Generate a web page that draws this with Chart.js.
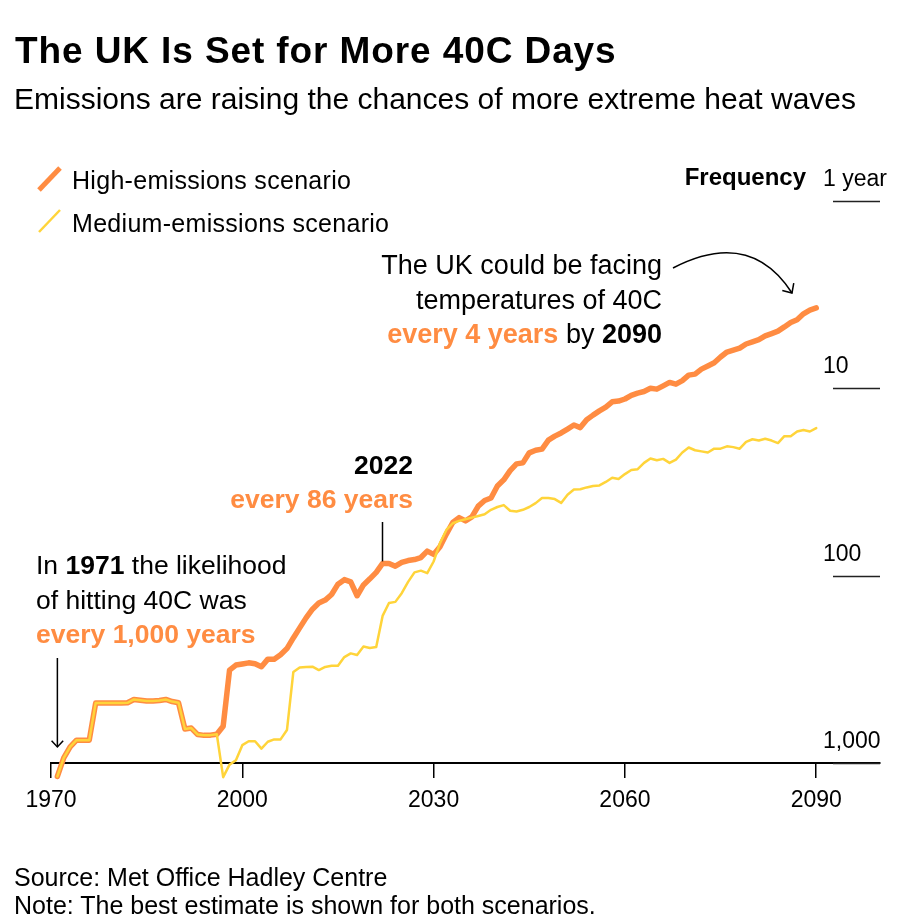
<!DOCTYPE html>
<html>
<head>
<meta charset="utf-8">
<title>The UK Is Set for More 40C Days</title>
<script src="https://cdn.jsdelivr.net/npm/chart.js@4.4.1/dist/chart.umd.min.js"></script>
<style>
  body { margin: 0; background: #fff; }
  #wrap {
    position: relative;
    width: 915px;
    height: 914px;
    overflow: hidden;
    font-family: "Liberation Sans", Arial, sans-serif;
    color: #000;
  }
  #chart { position: absolute; left: 0; top: 0; }
  .txt { position: absolute; white-space: nowrap; line-height: 1; }
  .hot { color: #ff8c42; font-weight: bold; }
  .legend-icon { position: absolute; left: 36px; }
</style>
</head>
<body>
<div id="wrap">
  <canvas id="chart" width="915" height="914"></canvas>

  <div class="txt" style="left:15px; top:32px; font-size:37px; font-weight:bold; letter-spacing:0.9px;">The UK Is Set for More 40C Days</div>
  <div class="txt" style="left:14px; top:84px; font-size:30px;">Emissions are raising the chances of more extreme heat waves</div>

  <svg class="legend-icon" style="top:164px;" width="28" height="30"><line x1="3" y1="26" x2="24" y2="4" stroke="#ff8c42" stroke-width="5"/></svg>
  <div class="txt" style="left:72px; top:168px; font-size:25px; letter-spacing:0.3px;">High-emissions scenario</div>
  <svg class="legend-icon" style="top:207px;" width="28" height="30"><line x1="3" y1="25" x2="24" y2="3" stroke="#ffd43a" stroke-width="2.5"/></svg>
  <div class="txt" style="left:72px; top:211px; font-size:25px; letter-spacing:0.3px;">Medium-emissions scenario</div>

  <div class="txt" style="right:109px; top:165px; font-size:24px; font-weight:bold; text-align:right;">Frequency</div>

  <div class="txt" style="right:253px; top:248px; font-size:27px; line-height:34.5px; text-align:right;">
    The UK could be facing<br>temperatures of 40C<br><span class="hot">every 4 years</span> by <b>2090</b>
  </div>

  <div class="txt" style="right:502px; top:448px; font-size:26.5px; line-height:34px; text-align:right; font-weight:bold;">
    2022<br><span class="hot">every 86 years</span>
  </div>

  <div class="txt" style="left:36px; top:548px; font-size:26.5px; line-height:34.5px;">
    In <b>1971</b> the likelihood<br>of hitting 40C was<br><span class="hot">every 1,000 years</span>
  </div>

  <div class="txt" style="left:14px; top:863px; font-size:25px; line-height:28px;">
    Source: Met Office Hadley Centre<br>Note: The best estimate is shown for both scenarios.
  </div>
</div>

<script>
/* Data : years 1971-2090, return period of a 40C day in years */

const years = Array.from({ length: 120 }, (_, i) => 1971 + i);

const highEmissions = [
  1180, 940, 820, 755, 755, 755, 479, 479, 478, 478,
  478, 477, 458, 462, 467, 467, 464, 458, 470, 477,
  659, 651, 705, 712, 710, 702, 636, 319, 300, 296,
  292, 295, 306, 279, 279, 264, 245, 215, 190, 168,
  151, 140, 135, 126, 111, 105, 108, 128, 112, 104,
  96, 86, 86, 89, 85, 83, 82, 80, 74, 77,
  70, 60, 52, 49, 51, 48.6, 42.5, 39.7, 38.5, 33.2,
  30.8, 27.5, 25.3, 25, 22.1, 21.4, 21.1, 18.9, 18, 17.3,
  16.5, 15.7, 16.2, 14.7, 13.9, 13.2, 12.6, 11.8, 11.7, 11.4,
  10.9, 10.6, 10.4, 10, 10.1, 9.7, 9.3, 9.5, 9.1, 8.5,
  8.4, 7.9, 7.6, 7.3, 6.8, 6.4, 6.25, 6.1, 5.8, 5.65,
  5.5, 5.25, 5.1, 4.95, 4.7, 4.45, 4.3, 4.0, 3.82, 3.72,
];

const mediumEmissions = [
  1180, 940, 820, 755, 755, 755, 479, 479, 478, 478,
  478, 477, 458, 462, 467, 467, 464, 458, 470, 477,
  659, 651, 705, 712, 710, 702, 1190, 1020, 966, 803,
  765, 765, 838, 770, 748, 748, 667, 327, 309, 307,
  306, 319, 307, 303, 303, 272, 260, 265, 239, 243,
  240, 164, 140, 138, 124, 108, 96, 94, 97, 84,
  67, 57, 52.5, 51, 50, 49, 48, 47, 44.5, 43,
  42, 45, 45.4, 44.5, 43, 41, 38.5, 38.5, 39, 40.9,
  37, 34.7, 34.6, 33.8, 33.2, 33, 31.6, 30, 30.5, 28.7,
  27.3, 27, 25, 23.7, 24.2, 23.8, 25, 24, 22, 20.7,
  21.4, 21.7, 22, 21, 21, 20.4, 20.6, 21, 19.3, 18.7,
  19, 18.6, 19, 19.6, 18, 18, 17, 16.7, 17, 16.3,
];

const xTicks = [1970, 2000, 2030, 2060, 2090];
const yTicks = [1, 10, 100, 1000];
const yTickLabels = ["1 year", "10", "100", "1,000"];

const ORANGE = "#ff8c42";
const YELLOW = "#ffd43a";
const FONT = "'Liberation Sans', Arial, sans-serif";

/* Frequency axis on the right + annotation arrows */

function arrowHead(ctx, x, y, angle, len) {
  ctx.beginPath();
  ctx.moveTo(x - len * Math.cos(angle - 0.75), y - len * Math.sin(angle - 0.75));
  ctx.lineTo(x, y);
  ctx.lineTo(x - len * Math.cos(angle + 0.75), y - len * Math.sin(angle + 0.75));
  ctx.stroke();
}

const frequencyAxis = {
  id: "frequencyAxis",
  afterDraw(chart) {
    const ctx = chart.ctx;
    const x = chart.scales.x;
    const y = chart.scales.y;
    const right = chart.chartArea.right;

    ctx.save();
    ctx.font = "23px " + FONT;
    ctx.fillStyle = "#000";
    ctx.textAlign = "left";
    ctx.textBaseline = "alphabetic";
    yTicks.forEach((v, i) => {
      const py = Math.round(y.getPixelForValue(v)) + 0.5;
      ctx.strokeStyle = "#222";
      ctx.lineWidth = 1.5;
      ctx.beginPath();
      ctx.moveTo(833, py);
      ctx.lineTo(right, py);
      ctx.stroke();
      ctx.fillText(yTickLabels[i], 823, py - 16);
    });

    ctx.strokeStyle = "#000";
    ctx.lineWidth = 1.5;

    // 1971 arrow
    const x1971 = x.getPixelForValue(1971);
    ctx.beginPath();
    ctx.moveTo(x1971, 658);
    ctx.lineTo(x1971, 747);
    ctx.stroke();
    arrowHead(ctx, x1971, 747, Math.PI / 2, 8.5);

    // 2022 marker
    const x2022 = Math.round(x.getPixelForValue(2022)) - 0.5;
    ctx.beginPath();
    ctx.moveTo(x2022, 522);
    ctx.lineTo(x2022, y.getPixelForValue(86) - 2);
    ctx.stroke();

    // curved arrow to 2090
    ctx.beginPath();
    ctx.moveTo(673, 268);
    ctx.quadraticCurveTo(750, 228, 792, 293);
    ctx.stroke();
    arrowHead(ctx, 792, 293, Math.atan2(293 - 228, 792 - 750), 10);

    ctx.restore();
  },
};

/* Chart : */

const ctx = document.getElementById("chart").getContext("2d");

const data = {
  datasets: [
    {
      label: "High-emissions scenario",
      data: years.map((yr, i) => ({ x: yr, y: highEmissions[i] })),
      borderColor: ORANGE,
      borderWidth: 5.5,
      pointRadius: 0,
      borderJoinStyle: "round",
      borderCapStyle: "round",
      clip: false,
      order: 2,
    },
    {
      label: "Medium-emissions scenario",
      data: years.map((yr, i) => ({ x: yr, y: mediumEmissions[i] })),
      borderColor: YELLOW,
      borderWidth: 2.5,
      pointRadius: 0,
      borderJoinStyle: "round",
      borderCapStyle: "round",
      clip: false,
      order: 1,
    },
  ],
};

const config = {
  type: "line",
  data: data,
  options: {
    responsive: false,
    animation: false,
    events: [],
    layout: {
      padding: { left: 51, right: 35, top: 201, bottom: 101 },
    },
    plugins: {
      legend: { display: false },
      tooltip: { enabled: false },
    },
    scales: {
      x: {
        type: "linear",
        min: 1970,
        max: 2100,
        afterBuildTicks: (s) => {
          s.ticks = xTicks.map((v) => ({ value: v }));
        },
        afterFit: (s) => {
          s.height = 50;
        },
        ticks: {
          padding: 9,
          color: "#000",
          font: { family: FONT, size: 23 },
          maxRotation: 0,
          callback: (v) => String(v),
        },
        grid: {
          drawOnChartArea: false,
          drawTicks: true,
          tickLength: 15,
          color: "#000",
          lineWidth: 1.5,
        },
        border: { display: true, color: "#000", width: 2 },
      },
      y: {
        type: "logarithmic",
        display: false,
        reverse: true,
        min: 1,
        max: 1000,
      },
    },
  },
  plugins: [frequencyAxis],
};

const myChart = new Chart(ctx, config);
</script>
</body>
</html>
